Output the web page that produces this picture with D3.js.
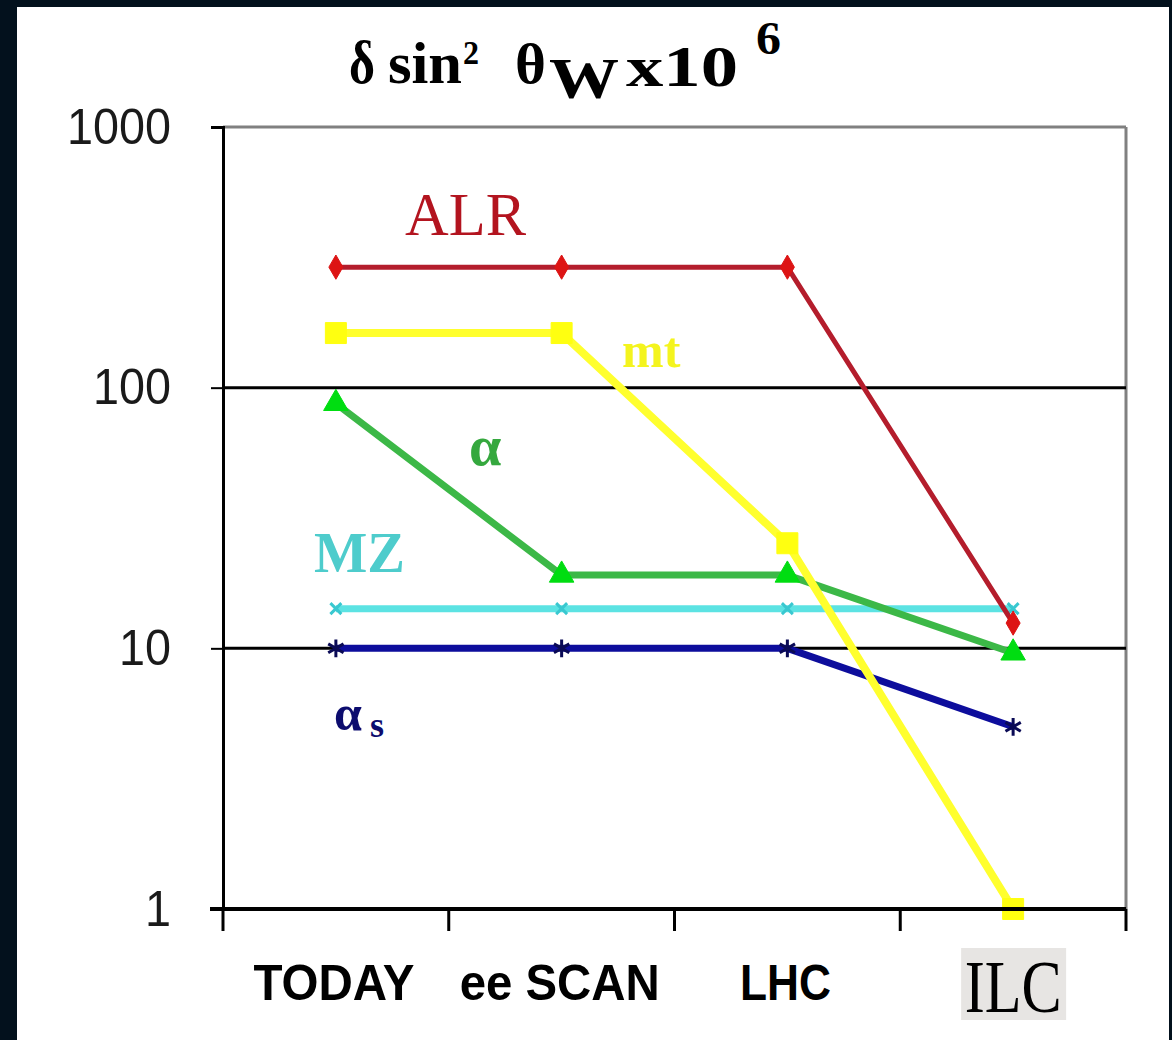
<!DOCTYPE html>
<html>
<head>
<meta charset="utf-8">
<script src="https://cdn.jsdelivr.net/npm/d3@7"></script>
<style>
  html, body { margin: 0; padding: 0; background: #03111d; }
  svg { display: block; }
</style>
</head>
<body>
<div id="chart"></div>
<script>
// categories on the x axis
var stages = ["TODAY", "ee SCAN", "LHC", "ILC"];

// y axis ticks (log scale)
var yTicks = [1, 10, 100, 1000];

// series values, one per stage
var alrValues = [290, 290, 290, 12.5];
var mtValues = [162, 162, 25.3, 1];
var alphaValues = [87, 19.1, 19.1, 9.6];
var mzValues = [14.2, 14.2, 14.2, 14.2];
var alphaSValues = [10, 10, 10, 5];

var series = [
  { name: "MZ", values: mzValues, line: "#5ce3e3", marker: "#39c8d0", symbol: d3.symbolTimes, size: 80, width: 7 },
  { name: "alpha_s", values: alphaSValues, line: "#0d0d9c", marker: "#0a0a55", symbol: d3.symbolAsterisk, size: 220, width: 7 },
  { name: "alpha", values: alphaValues, line: "#3cb847", marker: "#00dd11", symbol: d3.symbolTriangle, size: 260, width: 7 },
  { name: "mt", values: mtValues, line: "#ffff2e", marker: "#ffff10", symbol: d3.symbolSquare, size: 440, width: 8 },
  { name: "ALR", values: alrValues, line: "#b41d2c", marker: "#dd1414", symbol: d3.symbolDiamond, size: 170, width: 5 }
];

var W = 1172, H = 1040;
var svg = d3.select("#chart").append("svg").attr("width", W).attr("height", H);

// white panel on the dark background
svg.append("rect").attr("x", 17).attr("y", 7).attr("width", 1152).attr("height", 1040).attr("fill", "#ffffff");

// scales
var x = d3.scaleBand().domain(stages).range([223, 1126]);
var y = d3.scaleLog().domain([1, 1000]).range([909, 127]);
var cx = function(d) { return x(d) + x.bandwidth() / 2; };

// frame: gray top and right
svg.append("line").attr("x1", 223).attr("x2", 1126).attr("y1", y(1000)).attr("y2", y(1000))
  .attr("stroke", "#808080").attr("stroke-width", 3);
svg.append("line").attr("x1", 1126).attr("x2", 1126).attr("y1", y(1000)).attr("y2", y(1))
  .attr("stroke", "#808080").attr("stroke-width", 3);

// gridlines at 10 and 100
svg.selectAll(".grid").data([10, 100]).enter().append("line")
  .attr("x1", 223).attr("x2", 1126)
  .attr("y1", function(d) { return y(d); }).attr("y2", function(d) { return y(d); })
  .attr("stroke", "#000").attr("stroke-width", 3);

// y axis
var yAxis = d3.axisLeft(y).tickValues(yTicks).tickFormat(d3.format("d")).tickSize(12).tickPadding(40);
var gy = svg.append("g").attr("transform", "translate(223,0)").call(yAxis);
gy.select(".domain").attr("stroke", "#000").attr("stroke-width", 3);
gy.selectAll(".tick line").attr("stroke", "#000").attr("stroke-width", 2);
gy.selectAll(".tick text")
  .attr("font-family", "'Liberation Sans', Arial, sans-serif")
  .attr("font-size", 50).attr("fill", "#1a1a1a")
  .attr("textLength", function(d) { return String(d).length * 26; })
  .attr("lengthAdjust", "spacingAndGlyphs");

// x axis: ticks on the band edges
var edges = stages.map(function(s) { return x(s); }).concat([1126]);
svg.selectAll(".xtick").data(edges).enter().append("line")
  .attr("x1", function(d) { return d; }).attr("x2", function(d) { return d; })
  .attr("y1", y(1)).attr("y2", y(1) + 22)
  .attr("stroke", "#000").attr("stroke-width", 3);

// series lines and markers
var line = d3.line()
  .x(function(d, i) { return cx(stages[i]); })
  .y(function(d) { return y(d); });

series.forEach(function(s) {
  svg.append("path").datum(s.values)
    .attr("d", line).attr("fill", "none")
    .attr("stroke", s.line).attr("stroke-width", s.width)
    .attr("stroke-linejoin", "round");
  svg.selectAll(".m-" + s.name).data(s.values).enter().append("path")
    .attr("transform", function(d, i) { return "translate(" + cx(stages[i]) + "," + y(d) + ")"; })
    .attr("d", d3.symbol().type(s.symbol).size(s.size))
    .attr("fill", s.marker)
    .attr("stroke", s.marker)
    .attr("stroke-width", (s.symbol === d3.symbolTimes || s.symbol === d3.symbolAsterisk) ? 3 : 1);
});

// bottom axis drawn on top of the lines
svg.append("line").attr("x1", 210).attr("x2", 1126).attr("y1", y(1)).attr("y2", y(1))
  .attr("stroke", "#000").attr("stroke-width", 4);

// category labels
var ilcX = cx("ILC");
svg.append("rect").attr("x", ilcX - 52).attr("y", 948).attr("width", 105).attr("height", 72).attr("fill", "#e7e5e3");

var labelWidths = { "TODAY": 161, "ee SCAN": 200, "LHC": 91 };
svg.selectAll(".cat").data(stages.slice(0, 3)).enter().append("text")
  .attr("x", function(d) { return cx(d) - 2; })
  .attr("y", 1000)
  .attr("text-anchor", "middle")
  .attr("font-family", "'Liberation Sans', Arial, sans-serif")
  .attr("font-weight", "bold").attr("font-size", 50).attr("fill", "#000")
  .attr("textLength", function(d) { return labelWidths[d]; })
  .attr("lengthAdjust", "spacingAndGlyphs")
  .text(function(d) { return d; });

svg.append("text").attr("x", ilcX).attr("y", 1012).attr("text-anchor", "middle")
  .attr("font-family", "'Liberation Serif', 'Times New Roman', serif")
  .attr("font-size", 74).attr("fill", "#000")
  .attr("textLength", 97).attr("lengthAdjust", "spacingAndGlyphs")
  .text("ILC");

// title, each piece placed on its own
var serif = "'Liberation Serif', 'Times New Roman', serif";
var titleParts = [
  { t: "δ", x: 349, y: 83, size: 62, w: 26 },
  { t: "sin", x: 388, y: 83, size: 60, w: 74 },
  { t: "2", x: 463, y: 64, size: 34, w: 16 },
  { t: "θ", x: 515, y: 83, size: 58, w: 31 },
  { t: "W", x: 549, y: 98, size: 56, w: 70 },
  { t: "x10", x: 626, y: 86, size: 56, w: 112 },
  { t: "6", x: 756, y: 54, size: 46, w: 25 }
];
svg.selectAll(".title").data(titleParts).enter().append("text")
  .attr("x", function(d) { return d.x; }).attr("y", function(d) { return d.y; })
  .attr("font-family", serif).attr("font-weight", "bold").attr("fill", "#000")
  .attr("font-size", function(d) { return d.size; })
  .attr("textLength", function(d) { return d.w; })
  .attr("lengthAdjust", "spacingAndGlyphs")
  .text(function(d) { return d.t; });

// series labels
svg.append("text").attr("x", 405).attr("y", 235).attr("font-family", serif)
  .attr("font-size", 62).attr("fill", "#b3141f")
  .attr("textLength", 121).attr("lengthAdjust", "spacingAndGlyphs").text("ALR");
svg.append("text").attr("x", 622).attr("y", 367).attr("font-family", serif)
  .attr("font-weight", "bold").attr("font-size", 50).attr("fill", "#f4f41e").text("mt");
svg.append("text").attr("x", 469).attr("y", 465).attr("font-family", serif)
  .attr("font-weight", "bold").attr("font-size", 58).attr("fill", "#35a83e").text("α");
svg.append("text").attr("x", 314).attr("y", 572).attr("font-family", serif)
  .attr("font-weight", "bold").attr("font-size", 56).attr("fill", "#4ecccc")
  .attr("textLength", 91).attr("lengthAdjust", "spacingAndGlyphs").text("MZ");
var as = svg.append("text").attr("x", 334).attr("y", 730).attr("font-family", serif)
  .attr("font-weight", "bold").attr("fill", "#0c0c6e");
as.append("tspan").attr("font-size", 50).text("α");
as.append("tspan").attr("font-size", 36).attr("dx", 8).attr("dy", 7).text("s");
</script>
</body>
</html>
